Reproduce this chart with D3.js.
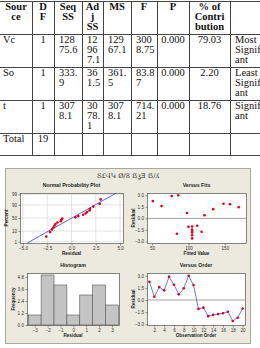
<!DOCTYPE html>
<html>
<head>
<meta charset="utf-8">
<script src="https://cdn.jsdelivr.net/npm/d3@7"></script>
<style>
body { margin: 0; background: #fff; }
svg { display: block; }
</style>
</head>
<body>
<script>
// ANOVA table
var headers = ["Source", "DF", "Seq SS", "Adj SS", "MS", "F", "P", "% of Contribution", ""];
var source = ["Vc", "So", "t", "Total"];
var df = ["1", "1", "1", "19"];
var seqSS = ["12875.6", "333.9", "3078.1", ""];
var adjSS = ["12967.1", "361.5", "3078.1", ""];
var ms = ["12967.1", "361.5", "3078.1", ""];
var fVal = ["3008.75", "83.87", "714.21", ""];
var pVal = ["0.000", "0.000", "0.000", ""];
var contrib = ["79.03", "2.20", "18.76", ""];
var remark = ["Most Significant", "Least Significant", "Significant", ""];

// residuals in observation order, and their fitted values
var residuals = [2.25, 0.4, 1.6, 1.2, 2.9, 1.9, 0.7, 1.45, 3.0, 1.85,
                 -1.1, -0.95, -2.0, -1.85, -1.75, -1.65, -1.45, -2.6, -2.2, -1.05];
var fits = [51, 122, 63, 134, 77, 148, 98, 169, 86, 157,
            100, 112, 84, 105, 118, 105, 105, 105, 105, 105];

// tick labels
var nppXTicks = [-5, -2.5, 0, 2.5, 5];
var nppYTicks = [1, 10, 50, 90, 99];
var fitXTicks = [50, 100, 150];
var resTicks = [-3, -1.5, 0, 1.5, 3];
var histXTicks = [-3, -2, -1, 0, 1, 2, 3];
var histYTicks = [0, 1.2, 2.4, 3.6, 4.8];
var orderTicks = [2, 4, 6, 8, 10, 12, 14, 16, 18, 20];

var w = 260, h = 348;
var serif = "'Liberation Serif', 'Times New Roman', serif";
var sans = "'Liberation Sans', Arial, sans-serif";

var svg = d3.select("body").append("svg")
    .attr("width", w)
    .attr("height", h);

// ---------- table ----------
var fs = 10.5, lineH = 10;
var colX = [0, 32, 54, 82, 103, 131, 157, 189, 230, 275];
var contentW = [24, 12, 19.5, 14.5, 19.5, 19.5, 25, 32, 35];
var dataAlign = ["start", "middle", "start", "start", "start", "start", "middle", "middle", "start"];

var meas = svg.append("text")
    .attr("font-family", serif)
    .attr("font-size", fs)
    .style("visibility", "hidden");

function textW(s, bold) {
  meas.attr("font-weight", bold ? "bold" : "normal").text(s);
  return meas.node().getComputedTextLength();
}

// word wrap, breaking words by characters when they do not fit (like Word does)
function wrap(str, width, bold) {
  var lines = [], cur = "";
  if (!str) return lines;
  str.split(" ").forEach(function(word) {
    var trial = cur ? cur + " " + word : word;
    if (textW(trial, bold) <= width) { cur = trial; return; }
    if (cur) { lines.push(cur); cur = ""; }
    while (textW(word, bold) > width && word.length > 1) {
      var k = word.length - 1;
      while (k > 1 && textW(word.slice(0, k), bold) > width) k--;
      lines.push(word.slice(0, k));
      word = word.slice(k);
    }
    cur = word;
  });
  if (cur) lines.push(cur);
  return lines;
}

var rows = [headers];
source.forEach(function(s, i) {
  rows.push([s, df[i], seqSS[i], adjSS[i], ms[i], fVal[i], pVal[i], contrib[i], remark[i]]);
});

var table = svg.append("g");
var y0 = 1;
var rowTops = [y0];
rows.forEach(function(row, r) {
  var bold = r === 0;
  var cells = row.map(function(v, c) { return wrap(v, contentW[c], bold); });
  var n = d3.max(cells, function(d) { return d.length; });
  var rh = Math.max(n * lineH + 3, 22);
  cells.forEach(function(lines, c) {
    var anchor = bold ? "middle" : dataAlign[c];
    var x = anchor === "middle" ? (colX[c] + colX[c + 1]) / 2 : colX[c] + (c === 0 ? 3 : 5);
    table.selectAll(null)
      .data(lines)
      .enter()
      .append("text")
      .attr("x", x)
      .attr("y", function(d, i) { return y0 + 9 + i * lineH; })
      .attr("text-anchor", anchor)
      .attr("font-family", serif)
      .attr("font-size", fs)
      .attr("font-weight", bold ? "bold" : "normal")
      .attr("fill", "#111")
      .text(function(d) { return d; });
  });
  y0 += rh;
  rowTops.push(y0);
});

table.selectAll("line.h")
  .data(rowTops)
  .enter()
  .append("line")
  .attr("x1", 0).attr("x2", w)
  .attr("y1", function(d) { return d + 0.5; })
  .attr("y2", function(d) { return d + 0.5; })
  .attr("stroke", "#444");

table.selectAll("line.v")
  .data(colX.slice(1, 9))
  .enter()
  .append("line")
  .attr("x1", function(d) { return d + 0.5; })
  .attr("x2", function(d) { return d + 0.5; })
  .attr("y1", rowTops[0])
  .attr("y2", rowTops[rowTops.length - 1])
  .attr("stroke", "#444");

// ---------- Minitab residual plots ----------
var panel = svg.append("g");
panel.append("rect")
  .attr("x", 5.5).attr("y", 168.5)
  .attr("width", 245).attr("height", 175)
  .attr("fill", "#eceadf")
  .attr("stroke", "#a8a8a0");

panel.append("text")
  .attr("x", 128).attr("y", 178)
  .attr("text-anchor", "middle")
  .attr("font-family", "'DejaVu Serif', serif")
  .attr("font-size", 6.5)
  .attr("fill", "#333")
  .text("Տ£ՎԿ Ø/8 ẞʓƎ ẞ/ʎ");

var red = "#e0001a", blue = "#3a3ae6";

// inverse standard normal (Acklam)
function qnorm(p) {
  var a = [-3.969683028665376e+01, 2.209460984245205e+02, -2.759285104469687e+02, 1.383577518672690e+02, -3.066479806614716e+01, 2.506628277459239e+00];
  var b = [-5.447609879822406e+01, 1.615858368580409e+02, -1.556989798598866e+02, 6.680131188771972e+01, -1.328068155288572e+01];
  var c = [-7.784894002430293e-03, -3.223964580411365e-01, -2.400758277161838e+00, -2.549732539343734e+00, 4.374664141464968e+00, 2.938163982698783e+00];
  var d = [7.784695709041462e-03, 3.224671290700398e-01, 2.445134137142996e+00, 3.754408661907416e+00];
  var q, r;
  if (p < 0.02425) {
    q = Math.sqrt(-2 * Math.log(p));
    return (((((c[0]*q+c[1])*q+c[2])*q+c[3])*q+c[4])*q+c[5]) / ((((d[0]*q+d[1])*q+d[2])*q+d[3])*q+1);
  } else if (p > 1 - 0.02425) {
    q = Math.sqrt(-2 * Math.log(1 - p));
    return -(((((c[0]*q+c[1])*q+c[2])*q+c[3])*q+c[4])*q+c[5]) / ((((d[0]*q+d[1])*q+d[2])*q+d[3])*q+1);
  }
  q = p - 0.5; r = q * q;
  return (((((a[0]*r+a[1])*r+a[2])*r+a[3])*r+a[4])*r+a[5])*q / (((((b[0]*r+b[1])*r+b[2])*r+b[3])*r+b[4])*r+1);
}

// frame, title, axes for one small plot
function frame(box, title, xLab, yLab, x, y, xTicks, yTicks, xFmt, yFmt, grid) {
  var g = panel.append("g");
  g.append("rect")
    .attr("x", box.x + 0.5).attr("y", box.y + 0.5)
    .attr("width", box.w).attr("height", box.h)
    .attr("fill", "#fff");
  if (grid) {
    g.selectAll(null).data(xTicks).enter().append("line")
      .attr("x1", function(d) { return x(d); }).attr("x2", function(d) { return x(d); })
      .attr("y1", box.y).attr("y2", box.y + box.h)
      .attr("stroke", "#d4d4d4").attr("stroke-width", 0.6);
    g.selectAll(null).data(yTicks).enter().append("line")
      .attr("y1", function(d) { return y(d); }).attr("y2", function(d) { return y(d); })
      .attr("x1", box.x).attr("x2", box.x + box.w)
      .attr("stroke", "#d4d4d4").attr("stroke-width", 0.6);
  }
  var xa = g.append("g")
    .attr("transform", "translate(0," + (box.y + box.h + 0.5) + ")")
    .call(d3.axisBottom(x).tickValues(xTicks).tickFormat(xFmt).tickSize(2).tickSizeOuter(0).tickPadding(1.5));
  var ya = g.append("g")
    .attr("transform", "translate(" + (box.x + 0.5) + ",0)")
    .call(d3.axisLeft(y).tickValues(yTicks).tickFormat(yFmt).tickSize(2).tickSizeOuter(0).tickPadding(1.5));
  [xa, ya].forEach(function(a) {
    a.attr("font-size", null).attr("font-family", null);
    a.select(".domain").remove();
    a.selectAll("line").attr("stroke", "#555").attr("stroke-width", 0.6);
    a.selectAll("text").attr("font-family", sans).attr("font-size", 4.6).attr("fill", "#333");
  });
  g.append("rect")
    .attr("x", box.x + 0.5).attr("y", box.y + 0.5)
    .attr("width", box.w).attr("height", box.h)
    .attr("fill", "none").attr("stroke", "#555").attr("stroke-width", 0.7);
  g.append("text")
    .attr("x", box.x + box.w / 2).attr("y", box.y - 6)
    .attr("text-anchor", "middle")
    .attr("font-family", sans).attr("font-size", 5.2).attr("font-weight", "bold")
    .attr("fill", "#222")
    .text(title);
  g.append("text")
    .attr("x", box.x + box.w / 2).attr("y", box.y + box.h + 12)
    .attr("text-anchor", "middle")
    .attr("font-family", sans).attr("font-size", 4.6).attr("font-weight", "bold")
    .attr("fill", "#222")
    .text(xLab);
  g.append("text")
    .attr("transform", "translate(" + (box.x - 12) + "," + (box.y + box.h / 2) + ") rotate(-90)")
    .attr("text-anchor", "middle")
    .attr("font-family", sans).attr("font-size", 4.6).attr("font-weight", "bold")
    .attr("fill", "#222")
    .text(yLab);
  return g;
}

function dots(g, data, fx, fy) {
  g.selectAll(null).data(data).enter().append("circle")
    .attr("cx", fx).attr("cy", fy)
    .attr("r", 1.3)
    .attr("fill", red);
}

var f1 = d3.format(".1f");

// Normal probability plot (y scale works on normal scores)
var b1 = {x: 20, y: 193, w: 103, h: 50};
var x1 = d3.scaleLinear().domain([-5.3, 5.3]).range([b1.x, b1.x + b1.w]);
var z1 = d3.scaleLinear().domain([-2.45, 2.45]).range([b1.y + b1.h, b1.y]);
var zTicks = nppYTicks.map(function(p) { return qnorm(p / 100); });
var g1 = frame(b1, "Normal Probability Plot", "Residual", "Percent", x1, z1,
               nppXTicks, zTicks, f1,
               function(d, i) { return nppYTicks[i]; }, true);
var sorted = residuals.slice().sort(d3.ascending);
var n = sorted.length;
var mean = d3.mean(residuals), sd = d3.deviation(residuals);
g1.append("line")
  .attr("x1", x1(mean + sd * z1.domain()[0])).attr("y1", z1(z1.domain()[0]))
  .attr("x2", x1(mean + sd * z1.domain()[1])).attr("y2", z1(z1.domain()[1]))
  .attr("stroke", blue).attr("stroke-width", 0.8);
dots(g1, sorted,
     function(d) { return x1(d); },
     function(d, i) { return z1(qnorm((i + 1 - 0.3) / (n + 0.4))); });

// Versus fits
var b2 = {x: 147, y: 193, w: 99, h: 50};
var x2 = d3.scaleLinear().domain([43, 179]).range([b2.x, b2.x + b2.w]);
var y2 = d3.scaleLinear().domain([-3.2, 3.3]).range([b2.y + b2.h, b2.y]);
var g2 = frame(b2, "Versus Fits", "Fitted Value", "Residual", x2, y2,
               fitXTicks, resTicks, d3.format("d"), f1, false);
g2.append("line")
  .attr("x1", b2.x).attr("x2", b2.x + b2.w)
  .attr("y1", y2(0)).attr("y2", y2(0))
  .attr("stroke", "#666").attr("stroke-width", 0.6);
dots(g2, residuals,
     function(d, i) { return x2(fits[i]); },
     function(d) { return y2(d); });

// Histogram
var b3 = {x: 27, y: 273, w: 92, h: 52};
var x3 = d3.scaleLinear().domain([-3.6, 3.55]).range([b3.x, b3.x + b3.w]);
var y3 = d3.scaleLinear().domain([0, 5.2]).range([b3.y + b3.h, b3.y]);
var g3 = frame(b3, "Histogram", "Residual", "Frequency", x3, y3,
               histXTicks, histYTicks, d3.format("d"), f1, false);
var bins = d3.bin().domain([-3.5, 3.5]).thresholds(d3.range(-2.5, 3.5, 1))(residuals);
g3.selectAll(null).data(bins).enter().append("rect")
  .attr("x", function(d) { return x3(d.x0); })
  .attr("y", function(d) { return y3(d.length); })
  .attr("width", function(d) { return x3(d.x1) - x3(d.x0); })
  .attr("height", function(d) { return y3(0) - y3(d.length); })
  .attr("fill", "#c4c4c4")
  .attr("stroke", "#555")
  .attr("stroke-width", 0.6);

// Versus order
var b4 = {x: 147, y: 273, w: 98, h: 52};
var x4 = d3.scaleLinear().domain([0.5, 20.5]).range([b4.x, b4.x + b4.w]);
var y4 = d3.scaleLinear().domain([-3.1, 3.35]).range([b4.y + b4.h, b4.y]);
var g4 = frame(b4, "Versus Order", "Observation Order", "Residual", x4, y4,
               orderTicks, resTicks, d3.format("d"), f1, false);
g4.append("line")
  .attr("x1", b4.x).attr("x2", b4.x + b4.w)
  .attr("y1", y4(0)).attr("y2", y4(0))
  .attr("stroke", "#666").attr("stroke-width", 0.6);
g4.append("path")
  .datum(residuals)
  .attr("d", d3.line().x(function(d, i) { return x4(i + 1); }).y(function(d) { return y4(d); }))
  .attr("fill", "none")
  .attr("stroke", blue)
  .attr("stroke-width", 0.7);
dots(g4, residuals,
     function(d, i) { return x4(i + 1); },
     function(d) { return y4(d); });
</script>
</body>
</html>
